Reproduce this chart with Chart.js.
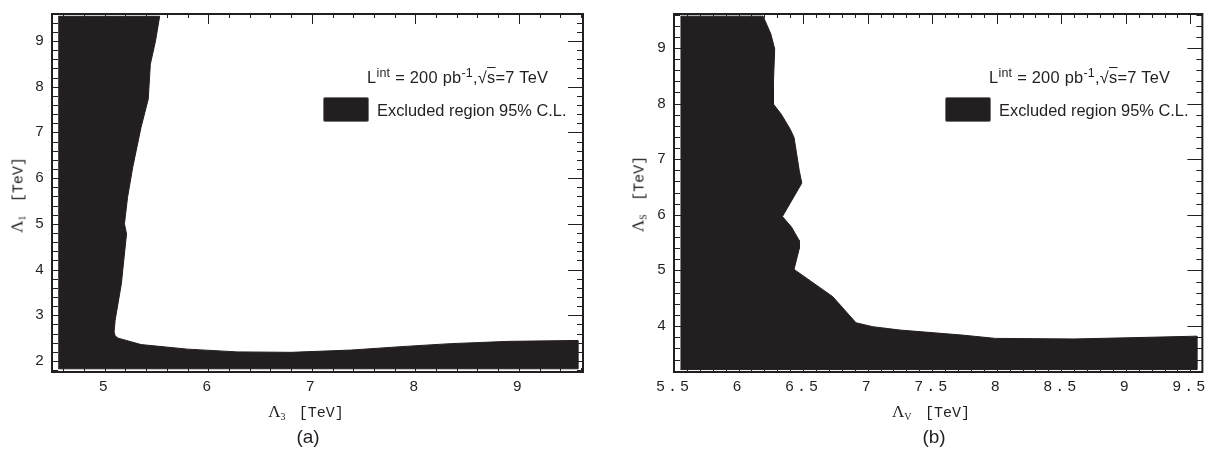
<!DOCTYPE html>
<html>
<head>
<meta charset="utf-8">
<script src="https://cdn.jsdelivr.net/npm/chart.js@4.4.1/dist/chart.umd.min.js"></script>
<style>
  body { margin: 0; background: #fff; width: 1210px; height: 453px; position: relative; overflow: hidden;
         font-family: 'Liberation Sans', Arial, sans-serif; color: #231f20; }
  canvas { position: absolute; top: 0; }
  #cA { left: 0; }
  #cB { left: 605px; }
  .t { position: absolute; white-space: nowrap; line-height: 1; }
  .leg { font-size: 16.4px; }
  .l1 { letter-spacing: 0.25px; }
  .leg sup { font-size: 12.5px; position: relative; top: -6px; vertical-align: baseline; line-height: 0; }
  .ov { text-decoration: overline; }
  .box { position: absolute; width: 46px; height: 25px; background: #231f20; border: 1px solid #777; border-radius: 2px; box-sizing: border-box; }
  .axt { transform: translateX(-50%); }
  .lam { font-family: 'Liberation Serif', 'DejaVu Serif', serif; font-size: 17px; }
  .axt sub, .yt sub { font-family: 'Liberation Serif', serif; font-size: 10px; vertical-align: -3px; }
  .mono { font-family: 'Liberation Mono', monospace; font-size: 15px; }
  .yt { transform: translate(-50%, -50%) rotate(-90deg); }
  .cap { font-size: 19px; transform: translateX(-50%); }
</style>
</head>
<body>
<canvas id="cA" width="605" height="453"></canvas>
<canvas id="cB" width="605" height="453"></canvas>

<div class="t leg l1" style="left:367px;top:69px">L<sup>int</sup> = 200 pb<sup>-1</sup>,√<span class="ov">s</span>=7 TeV</div>
<div class="box" style="left:323px;top:97px"></div>
<div class="t leg" style="left:377px;top:102px">Excluded region 95% C.L.</div>

<div class="t leg l1" style="left:989px;top:69px">L<sup>int</sup> = 200 pb<sup>-1</sup>,√<span class="ov">s</span>=7 TeV</div>
<div class="box" style="left:945px;top:97px"></div>
<div class="t leg" style="left:999px;top:102px">Excluded region 95% C.L.</div>

<div class="t axt" style="left:306px;top:403px"><span class="lam">Λ</span><sub>3</sub>&nbsp;&nbsp;&nbsp;<span class="mono">[TeV]</span></div>
<div class="t axt" style="left:931px;top:403px"><span class="lam">Λ</span><sub>V</sub>&nbsp;&nbsp;&nbsp;<span class="mono">[TeV]</span></div>
<div class="t yt" style="left:18px;top:195px"><span class="lam">Λ</span><sub>1</sub>&nbsp;&nbsp;&nbsp;<span class="mono">[TeV]</span></div>
<div class="t yt" style="left:639px;top:194px"><span class="lam">Λ</span><sub>S</sub>&nbsp;&nbsp;&nbsp;<span class="mono">[TeV]</span></div>

<div class="t cap" style="left:308px;top:427px">(a)</div>
<div class="t cap" style="left:934px;top:427px">(b)</div>

<script>
// (a) excluded region, Lambda_3 vs Lambda_1 (outline of the black area)
const regionA_x = [4.55, 5.53, 5.49, 5.44, 5.42, 5.35, 5.27, 5.22, 5.19, 5.21, 5.16, 5.10, 5.09, 5.10, 5.13,
                   5.35, 5.80, 6.28, 6.80, 7.38, 7.90, 8.34, 8.90, 9.57, 9.57, 4.55];
const regionA_y = [9.54, 9.54, 9.00, 8.49, 7.73, 7.11, 6.24, 5.58, 5.00, 4.78, 3.69, 2.89, 2.64, 2.55, 2.50,
                   2.36, 2.26, 2.20, 2.19, 2.24, 2.32, 2.38, 2.43, 2.45, 1.83, 1.83];

// (b) excluded region, Lambda_V vs Lambda_S
const regionB_x = [5.55, 6.19, 6.25, 6.28, 6.27, 6.27, 6.33, 6.40, 6.43, 6.47, 6.49, 6.45, 6.34, 6.41, 6.47,
                   6.47, 6.43, 6.73, 6.91, 7.04, 7.25, 7.73, 7.99, 8.60, 9.00, 9.55, 9.55, 5.55];
const regionB_y = [9.57, 9.57, 9.25, 8.98, 8.35, 7.99, 7.81, 7.54, 7.39, 6.80, 6.57, 6.41, 5.97, 5.78, 5.54,
                   5.39, 5.02, 4.53, 4.06, 3.99, 3.93, 3.84, 3.78, 3.77, 3.79, 3.82, 3.22, 3.22];

const xTicksA = [5, 6, 7, 8, 9];
const yTicksA = [2, 3, 4, 5, 6, 7, 8, 9];
const xTicksB = [5.5, 6, 6.5, 7, 7.5, 8, 8.5, 9, 9.5];
const yTicksB = [4, 5, 6, 7, 8, 9];

const INK = '#231f20';

// frame + inward ticks on all four sides, like the original plot
const frameTicks = {
  id: 'frameTicks',
  beforeDraw(chart) { chart.ctx.letterSpacing = '3px'; },
  afterDatasetsDraw(chart, args, o) {
    const { ctx, chartArea: a, scales: { x, y } } = chart;
    ctx.save();
    ctx.strokeStyle = INK;
    ctx.lineWidth = 1;
    const steps = (min, max, step) => {
      const out = [];
      for (let i = Math.ceil(min / step - 1e-9); i * step <= max + 1e-9; i++) out.push(+(i * step).toFixed(4));
      return out;
    };
    const isMajor = (v, list) => list.some(m => Math.abs(m - v) < 1e-6);
    ctx.beginPath();
    steps(x.min, x.max, o.xMinor).forEach(v => {
      const px = Math.round(x.getPixelForValue(v)) + 0.5;
      const len = isMajor(v, o.xMajor) ? 10 : 4;
      ctx.moveTo(px, a.top); ctx.lineTo(px, a.top + len);
      ctx.moveTo(px, a.bottom); ctx.lineTo(px, a.bottom - len);
    });
    steps(y.min, y.max, o.yMinor).forEach(v => {
      const py = Math.round(y.getPixelForValue(v)) + 0.5;
      const len = isMajor(v, o.yMajor) ? 15 : 6;
      ctx.moveTo(a.left, py); ctx.lineTo(a.left + len, py);
      ctx.moveTo(a.right, py); ctx.lineTo(a.right - len, py);
    });
    ctx.stroke();
    ctx.lineWidth = 2;
    ctx.strokeRect(a.left, a.top, a.right - a.left, a.bottom - a.top);
    ctx.restore();
  }
};

function makePanel(id, xs, ys, range, ticks, pad, yWidth) {
  const tickFont = { family: "'Liberation Mono', monospace", size: 15 };
  return new Chart(document.getElementById(id), {
    type: 'scatter',
    data: {
      datasets: [{
        data: xs.map((v, i) => ({ x: v, y: ys[i] })),
        showLine: true,
        fill: 'shape',
        tension: 0,
        pointRadius: 0,
        borderWidth: 1,
        borderColor: INK,
        backgroundColor: INK
      }]
    },
    options: {
      responsive: false,
      animation: false,
      events: [],
      layout: { padding: { left: 0, top: 13, right: pad, bottom: 0 } },
      plugins: {
        legend: { display: false },
        tooltip: { enabled: false },
        frameTicks: { xMajor: ticks.x, yMajor: ticks.y, xMinor: ticks.xMinor, yMinor: ticks.yMinor }
      },
      scales: {
        x: {
          type: 'linear', min: range.x[0], max: range.x[1],
          afterFit: s => { s.height = 81; },
          afterBuildTicks: s => { s.ticks = ticks.x.map(v => ({ value: v })); },
          grid: { display: false, drawTicks: false },
          border: { display: false },
          ticks: { padding: 6, font: tickFont, color: INK, maxRotation: 0, autoSkip: false,
                   callback: v => String(v) }
        },
        y: {
          type: 'linear', min: range.y[0], max: range.y[1],
          afterFit: s => { s.width = yWidth; },
          afterBuildTicks: s => { s.ticks = ticks.y.map(v => ({ value: v })); },
          grid: { display: false, drawTicks: false },
          border: { display: false },
          ticks: { padding: 5, font: tickFont, color: INK, autoSkip: false, callback: v => String(v) }
        }
      }
    },
    plugins: [frameTicks]
  });
}

makePanel('cA', regionA_x, regionA_y, { x: [4.49, 9.62], y: [1.76, 9.59] },
  { x: xTicksA, y: yTicksA, xMinor: 0.2, yMinor: 0.2 }, 22, 52);
makePanel('cB', regionB_x, regionB_y, { x: [5.5, 9.593], y: [3.176, 9.609] },
  { x: xTicksB, y: yTicksB, xMinor: 0.1, yMinor: 0.2 }, 6, 69);
</script>
</body>
</html>
